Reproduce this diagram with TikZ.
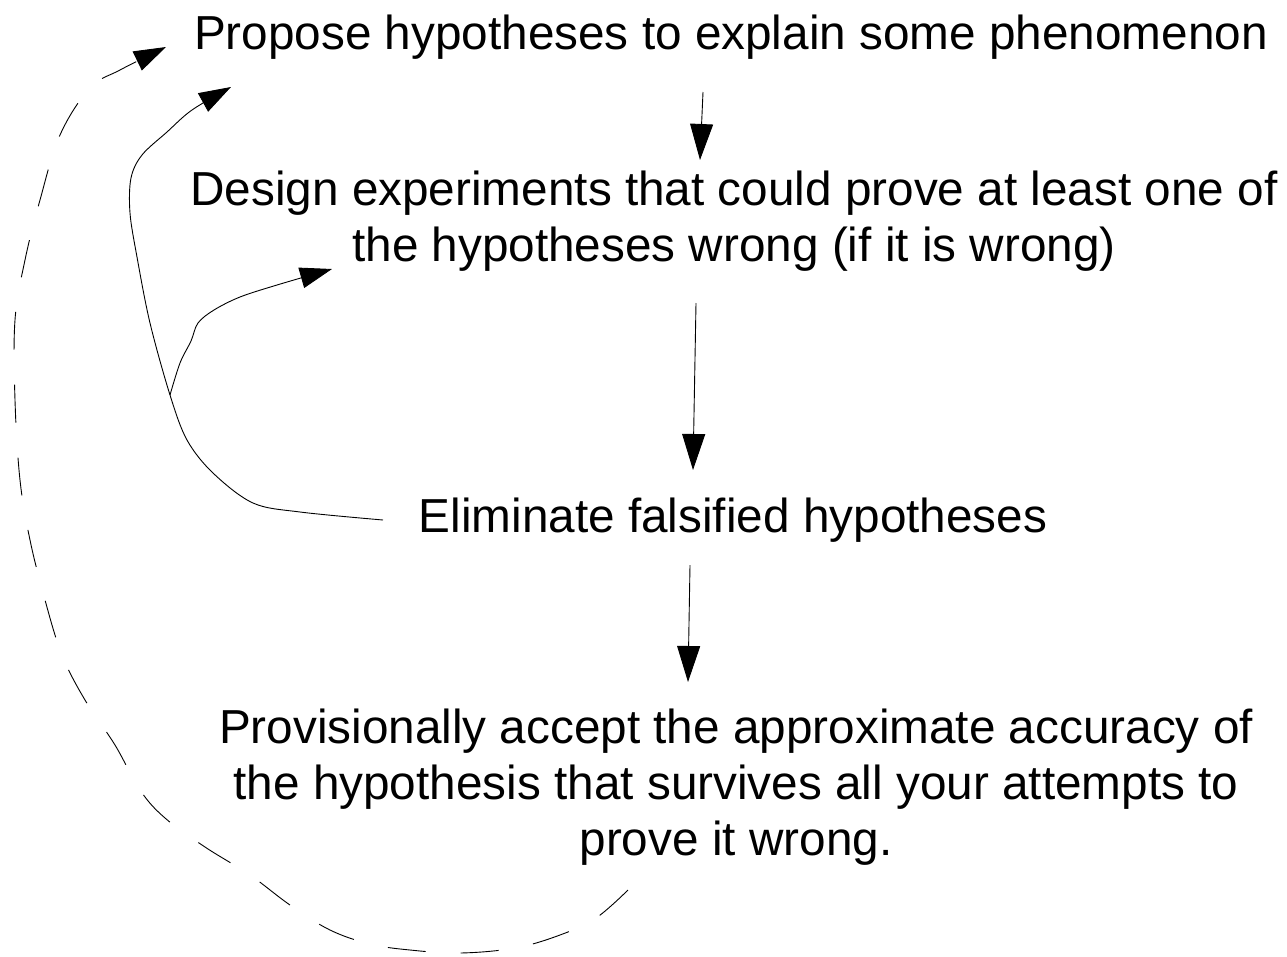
\documentclass[tikz,border=0pt]{standalone}
\usepackage{fontspec}
\setmainfont{Liberation Sans}
\usetikzlibrary{arrows.meta}
\begin{document}
\begin{tikzpicture}[x=1pt,y=-1pt,
  lbl/.style={inner sep=0pt,align=center,font=\fontsize{47.7}{56}\selectfont},
  arr/.style={line width=0.9pt,-{Triangle[length=36pt,width=23pt]}},
  carr/.style={line width=0.9pt,-{Triangle[length=32pt,width=21pt]}},
  dsh/.style={carr,dash pattern=on 38pt off 35pt}]
\useasboundingbox (0,0) rectangle (1287,956);
\fill[white] (0,0) rectangle (1287,956);
\node[lbl] (p1) at (731,37) {Propose hypotheses to explain some phenomenon};
\node[lbl] (p2) at (734,221) {Design experiments that could prove at least one of\\the hypotheses wrong (if it is wrong)};
\node[lbl] (p3) at (733,520) {Eliminate falsified hypotheses};
\node[lbl] (p4) at (736,787) {Provisionally accept the approximate accuracy of\\the hypothesis that survives all your attempts to\\prove it wrong.};
% vertical connectors
\coordinate (a1s) at (703,92);  \coordinate (a1e) at (700,160);
\coordinate (a2s) at (696,303); \coordinate (a2e) at (693,470);
\coordinate (a3s) at (690,565); \coordinate (a3e) at (688,682);
\draw[arr] (a1s) -- (a1e);
\draw[arr] (a2s) -- (a2e);
\draw[arr] (a3s) -- (a3e);
% solid feedback curve from p3 to p1
\coordinate (cs) at (383,520);
\coordinate (br) at (170,395);
\coordinate (t1) at (231,87);
\coordinate (t2) at (332,269);
\draw[carr] plot[smooth,tension=0.55] coordinates {(cs) (300,512) (253,503) (213,473) (187,440) (br) (150,323) (137,257) (130,213) (131,178) (142,155) (167,132) (192,110) (t1)};
\draw[carr] plot[smooth,tension=0.55] coordinates {(br) (180,363) (191,341) (198,323) (214,310) (240,297) (277,285) (t2)};
% dashed loop from p4 to p1
\coordinate (ds) at (628,890);
\coordinate (t3) at (166,47);
\draw[dsh] plot[smooth,tension=0.6] coordinates {(ds) (596,918) (560,935) (515,948) (460,953) (410,950) (370,944) (330,930) (290,905) (250,875) (205,847) (165,818) (140,790) (115,745) (85,700) (62,655) (45,600) (30,540) (20,480) (15,400) (15,320) (25,260) (40,200) (60,135) (90,88) (120,70) (t3)};
\end{tikzpicture}
\end{document}
